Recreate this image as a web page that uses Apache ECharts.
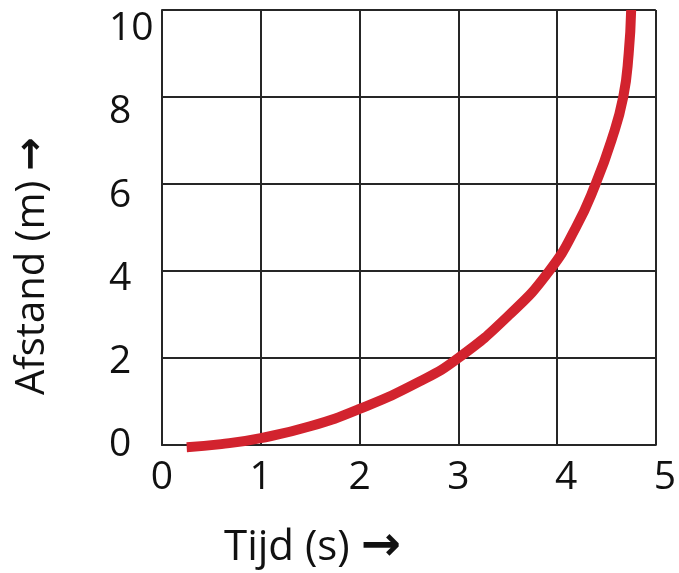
<!DOCTYPE html>
<html>
<head>
<meta charset="utf-8">
<script src="https://cdn.jsdelivr.net/npm/echarts@6/dist/echarts.min.js"></script>
<style>html,body{margin:0;padding:0;background:#fff;}#c{width:679px;height:573px;}</style>
</head>
<body>
<div id="c"></div>
<script>
// Data
const timeValues = [0.25, 0.6, 1.0, 1.5, 2.0, 2.6, 3.0, 3.52, 3.92, 4.19, 4.39, 4.55, 4.67, 4.725, 4.75];
const distanceValues = [-0.05, 0.02, 0.16, 0.43, 0.83, 1.45, 2.0, 3.0, 4.0, 5.0, 6.0, 7.0, 8.0, 9.0, 10.0];
const xTickLabels = [0, 1, 2, 3, 4, 5];
const yTickLabels = [0, 2, 4, 6, 8, 10];
const xTitle = 'Tijd (s)';
const yTitle = 'Afstand (m)';
const arrow = '→';

const font = '"Open Sans", "DejaVu Sans", sans-serif';
const gridColor = '#262626';
const textColor = '#111';

const chart = echarts.init(document.getElementById('c'), null, {renderer: 'canvas'});
chart.setOption({
  animation: false,
  backgroundColor: '#fff',
  grid: {left: 162, right: 22, top: 10, bottom: 128, containLabel: false},
  xAxis: [{
    type: 'value', min: 0, max: 5, interval: 1,
    axisLine: {show: true, lineStyle: {color: gridColor, width: 2}},
    axisTick: {show: false},
    splitLine: {show: true, lineStyle: {color: gridColor, width: 2}},
    axisLabel: {
      show: true, margin: 13, color: textColor, fontFamily: font, fontSize: 39,
      customValues: xTickLabels,
      formatter: function (v) { return v >= 4 ? '{s|' + v + '}' : String(v); },
      rich: {s: {fontFamily: font, fontSize: 39, color: textColor, padding: [0, 0, 0, 18]}}
    }
  }],
  yAxis: [{
    type: 'value', min: 0, max: 10, interval: 2,
    axisLine: {show: true, lineStyle: {color: gridColor, width: 2}},
    axisTick: {show: false},
    splitLine: {show: true, lineStyle: {color: gridColor, width: 2}},
    axisLabel: {show: false}
  }, {
    type: 'value', min: 0, max: 10.457, position: 'left',
    axisLine: {show: false}, axisTick: {show: false}, splitLine: {show: false},
    axisLabel: {
      show: true, customValues: yTickLabels, align: 'left', margin: 53,
      color: textColor, fontFamily: font, fontSize: 39
    }
  }],
  series: [{
    type: 'line',
    xAxisIndex: 0, yAxisIndex: 0,
    data: timeValues.map((t, i) => [t, distanceValues[i]]),
    smooth: 0.5,
    showSymbol: false,
    clip: false,
    lineStyle: {color: '#d2232e', width: 10, cap: 'butt'}
  }],
  graphic: [{
    type: 'text', x: 224, y: 548,
    style: {
      text: '{t|' + xTitle + ' }{a|' + arrow + '}',
      verticalAlign: 'middle',
      rich: {
        t: {font: '42px ' + font, fill: textColor, color: textColor},
        a: {font: 'bold 48px "DejaVu Sans", sans-serif', fill: textColor, color: textColor}
      }
    }
  }, {
    type: 'text', x: 33, y: 266, rotation: Math.PI / 2,
    style: {
      text: '{t|' + yTitle + ' }{a|' + arrow + '}',
      align: 'center', verticalAlign: 'middle',
      rich: {
        t: {font: '40px ' + font, fill: textColor, color: textColor},
        a: {font: 'bold 40px "DejaVu Sans", sans-serif', fill: textColor, color: textColor}
      }
    }
  }]
});
</script>
</body>
</html>
